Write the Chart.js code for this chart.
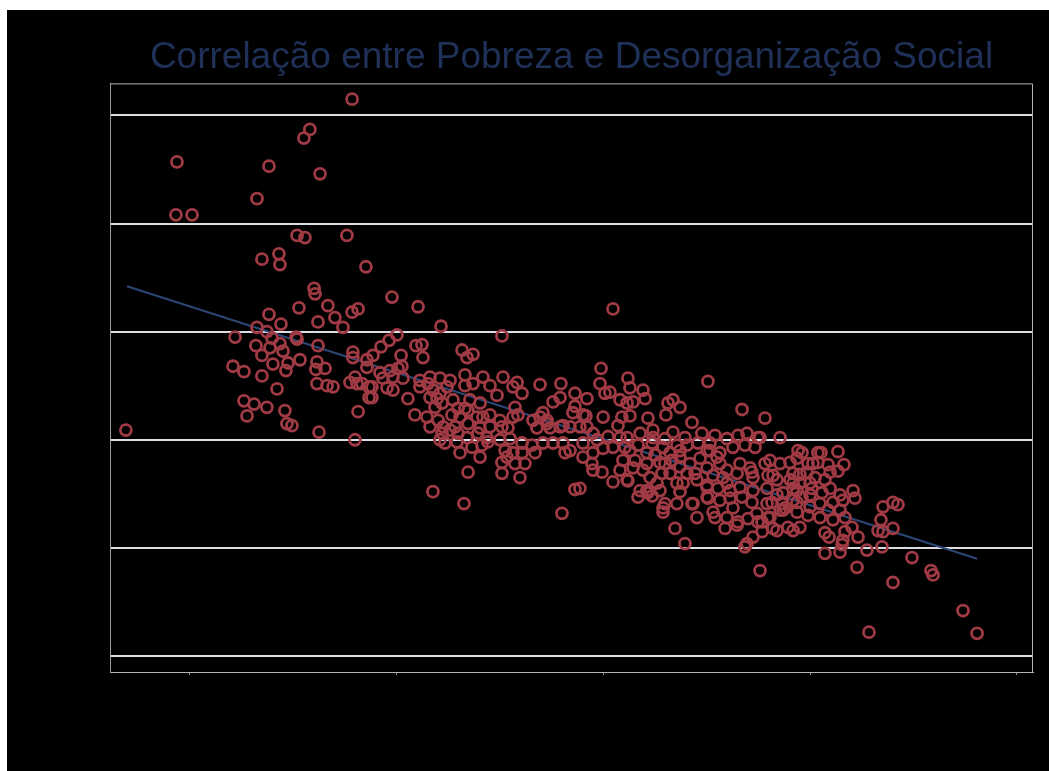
<!DOCTYPE html>
<html lang="pt">
<head>
<meta charset="utf-8">
<title>Correlação entre Pobreza e Desorganização Social</title>
<script src="https://cdn.jsdelivr.net/npm/chart.js@4.4.1/dist/chart.umd.min.js"></script>
<style>
    body { margin: 0; background: #ffffff; }
    #quadro { position: absolute; left: 7px; top: 10px; width: 1042px; height: 761px; background: #000000; }
</style>
</head>
<body>
<div id="quadro"><canvas id="myScatterChart"></canvas></div>
<script>
// 各地区の値 [貧困率, 社会的無秩序指数]
let pontos = [
    [6.90,2.09],[9.37,4.57],[9.32,4.08],[10.10,4.08],[13.82,4.53],[13.24,4.23],[15.80,4.87],[15.51,4.79],
    [16.29,4.46],[17.84,5.15],[15.18,3.89],[15.56,3.87],[17.59,3.89],[13.48,3.67],[14.30,3.72],[14.35,3.62],
    [18.51,3.60],[16.00,3.40],[16.05,3.35],[15.27,3.22],[16.67,3.24],[17.01,3.13],[17.84,3.18],[18.13,3.21],
    [16.19,3.09],[17.40,3.04],[13.82,3.16],[14.40,3.07],[13.24,3.04],[13.72,3.00],[12.18,2.95],[13.97,2.94],
    [15.13,2.95],[15.18,2.93],[13.19,2.87],[14.35,2.89],[13.87,2.85],[14.50,2.82],[13.48,2.78],[16.19,2.87],
    [17.88,2.81],[17.88,2.76],[18.56,2.74],[18.56,2.67],[12.08,2.68],[12.61,2.63],[14.01,2.70],[14.74,2.71],
    [14.64,2.64],[15.32,2.74],[16.14,2.72],[16.09,2.65],[16.53,2.66],[13.48,2.59],[16.14,2.52],[16.63,2.50],
    [16.92,2.49],[17.74,2.53],[17.98,2.58],[18.08,2.52],[18.32,2.52],[18.66,2.49],[18.66,2.39],[14.21,2.47],
    [12.61,2.36],[13.10,2.33],[13.72,2.30],[12.76,2.22],[14.59,2.27],[14.69,2.15],[14.93,2.13],[16.24,2.07],
    [18.13,2.26],[17.98,2.00],
    [19.77,3.32],[21.03,3.23],[22.14,3.05],[25.09,2.96],[20.01,2.97],[19.63,2.92],[19.24,2.86],[18.85,2.78],
    [20.93,2.87],[21.22,2.88],[21.27,2.76],[23.16,2.83],[23.40,2.76],[23.69,2.79],[20.21,2.78],[19.67,2.64],
    [20.06,2.66],[20.25,2.68],[19.19,2.62],[19.33,2.57],[19.82,2.58],[20.30,2.57],[19.53,2.48],[19.82,2.46],
    [18.80,2.49],[18.80,2.39],[20.54,2.38],[21.12,2.55],[21.61,2.58],[22.09,2.57],[22.58,2.55],[21.12,2.49],
    [21.51,2.52],[21.75,2.46],[22.09,2.43],[22.43,2.49],[21.61,2.39],[21.95,2.38],[22.19,2.34],[23.30,2.60],
    [23.69,2.52],[24.17,2.58],[24.51,2.50],[25.14,2.58],[25.82,2.53],[23.30,2.50],[24.85,2.41],[25.62,2.49],
    [26.06,2.43],[26.93,2.51],[27.94,2.52],[28.62,2.43],[29.20,2.38],[27.56,2.35],[27.90,2.39],[20.88,2.23],
    [21.46,2.21],[21.61,2.12],[21.85,2.30],[22.00,2.18],[22.24,2.12],[22.19,2.06],[22.72,2.37],[22.96,2.29],
    [23.30,2.29],[23.54,2.37],[24.03,2.34],[22.67,2.23],[23.06,2.21],[23.45,2.27],[23.45,2.15],[23.88,2.21],
    [24.17,2.21],[24.51,2.23],[22.58,2.09],[22.96,2.06],[23.40,2.02],[23.93,2.06],[24.36,2.02],[24.51,2.12],
    [22.33,1.97],[22.91,1.98],[23.06,1.88],[23.64,1.93],[24.03,1.84],[24.99,2.18],[25.38,2.11],[25.62,2.21],
    [25.86,2.23],[24.99,2.00],[25.24,1.90],[25.09,1.79],[25.09,1.69],[25.62,1.88],[26.06,1.88],[26.20,1.78],
    [25.96,1.65],[26.69,1.88],[23.45,1.70],[21.75,1.52],[23.25,1.41],[26.59,2.18],[26.93,2.21],[27.07,2.25],
    [27.41,2.11],[26.78,2.11],[27.07,1.97],[27.56,1.97],[28.04,2.13],[28.38,2.12],[28.52,2.25],[28.04,1.97],
    [28.38,1.90],[27.99,1.32],[28.62,1.54],[29.01,2.23],[29.20,2.12],[29.49,2.06],[29.01,1.97],[29.49,1.88],
    [29.69,2.00],[26.06,1.97],
    [25.72,2.30],[27.27,2.18],[22.82,2.12],[24.03,2.11],[25.09,2.12],[22.09,2.00],[24.41,1.98],[25.48,2.01],
    [24.12,1.95],[25.33,1.84],[26.54,1.95],[25.72,1.78],
    [30.46,3.21],[29.88,2.66],[31.18,2.57],[29.83,2.52],[30.31,2.44],[30.07,2.43],[31.28,2.48],[31.91,2.46],
    [32.01,2.38],[30.80,2.37],[31.14,2.34],[31.43,2.35],[33.36,2.37],[33.70,2.30],[33.12,2.34],[33.02,2.23],
    [35.05,2.54],[36.70,2.28],[37.81,2.20],[38.54,2.02],[29.15,2.22],[29.98,2.21],[30.89,2.21],[31.28,2.22],
    [32.15,2.20],[34.28,2.16],[28.86,2.12],[30.22,2.03],[30.70,2.13],[31.14,2.02],[31.77,2.06],[32.39,2.09],
    [32.97,2.01],[33.36,2.07],[33.94,2.02],[34.76,2.06],[35.39,2.04],[35.97,2.01],[36.51,2.04],[36.94,2.06],
    [37.47,2.02],[29.98,1.92],[30.46,1.93],[31.04,1.93],[31.67,1.95],[32.35,1.97],[32.88,1.93],[33.55,1.95],
    [34.04,1.95],[34.57,1.97],[35.15,1.97],[35.63,1.88],[36.26,1.93],[36.84,1.95],[37.33,1.93],[29.44,1.78],
    [29.93,1.70],[30.46,1.61],[30.80,1.72],[31.43,1.74],[31.14,1.63],[32.10,1.78],[32.73,1.79],[33.22,1.88],
    [33.70,1.84],[34.18,1.78],[34.43,1.69],[35.01,1.74],[35.49,1.84],[35.97,1.72],[36.60,1.78],[37.18,1.70],
    [37.81,1.78],[38.54,1.78],[39.17,1.69],[39.60,1.88],[39.41,1.90],[40.13,1.78],[40.37,1.88],[32.10,1.53],
    [31.67,1.47],[32.73,1.53],[33.22,1.69],[33.70,1.52],[34.33,1.41],[35.01,1.47],[35.63,1.44],[36.26,1.37],
    [36.70,1.47],[37.23,1.53],[37.91,1.55],[38.68,1.51],[39.36,1.53],[39.99,1.60],[32.88,1.37],[33.55,1.41],
    [34.52,1.28],[35.30,1.33],[37.42,1.32],[38.54,1.35],[39.36,1.33],[32.59,1.60],[33.85,1.60],[35.97,1.60],
    [36.60,1.56],[38.39,1.63],[39.17,1.60],[37.23,1.65],[28.86,1.55],
    [28.62,2.31],[27.27,2.15],[27.90,2.12],[30.80,2.02],[28.14,1.88],[29.01,1.84],[31.28,1.90],[32.10,1.88],
    [30.94,1.81],[31.52,1.81],[32.39,2.02],[32.49,1.86],[33.31,1.81],[32.97,1.78],[33.70,1.90],[35.01,1.90],
    [34.67,1.83],[29.49,1.72],[31.91,1.72],[32.25,1.65],[32.83,1.69],[33.70,1.75],[34.04,1.69],[33.55,1.60],
    [34.52,1.63],[35.01,1.58],[31.77,1.53],
    [41.34,1.89],[40.52,1.88],[37.57,2.02],[38.05,1.81],[39.02,1.79],[39.36,1.83],[40.37,1.79],[41.63,1.77],
    [41.34,1.71],[40.96,1.70],[40.71,1.63],[40.23,1.65],[39.84,1.70],[39.50,1.68],[37.96,1.67],[39.17,1.55],
    [39.50,1.60],[40.08,1.55],[40.57,1.51],[40.96,1.55],[41.44,1.49],[42.07,1.53],[42.16,1.46],[38.15,1.42],
    [38.78,1.37],[39.36,1.42],[39.60,1.47],[39.99,1.38],[40.47,1.41],[41.10,1.42],[41.58,1.44],[38.05,1.28],
    [38.68,1.35],[39.89,1.30],[40.47,1.28],[41.10,1.26],[41.68,1.28],[37.67,1.24],[38.39,1.16],[38.92,1.19],
    [39.50,1.19],[37.67,1.15],[42.02,1.19],[42.31,1.10],[40.91,1.10],[41.58,1.07],[41.54,1.03],[41.44,0.96],
    [40.71,0.95],[42.74,0.98],[43.47,1.01],[43.52,1.38],[44.00,1.42],[44.24,1.40],[43.42,1.26],[43.28,1.16],
    [43.52,1.15],[44.00,1.18],[44.92,0.91],[42.26,0.82],[37.57,0.79],[44.00,0.68],[45.84,0.79],[45.94,0.75],
    [47.39,0.42],[48.07,0.21],[42.84,0.22],
    [31.18,1.62],[32.15,1.51],[32.35,1.48],[32.97,1.41],[32.88,1.33],[34.28,1.41],[35.05,1.46],[36.12,1.46],
    [37.18,1.42],[35.39,1.28],[36.51,1.24],[36.99,1.27],[37.47,1.24],[37.96,1.28],[33.46,1.18],[33.94,1.04],
    [35.88,1.18],[37.23,1.10],[36.84,1.01],[36.94,1.04],[38.20,1.18],
    [35.15,1.90],[35.63,1.78],[37.09,1.74],[39.89,1.78],[40.86,1.77],[35.30,1.67],[35.78,1.65],[36.46,1.69],
    [38.20,1.67],[39.02,1.63],[35.01,1.56],[35.54,1.55],[36.12,1.53],[38.39,1.49],[39.99,1.49],[37.91,1.41],
    [38.63,1.41],[39.17,1.44],[35.97,1.28],[40.86,1.35],[41.44,1.35],[36.46,1.21],[39.17,1.16],[40.71,1.14],
    [41.68,1.15]
];

// 回帰直線の両端
let tendenciaX = [6.95, 48.07];
let tendenciaY = [3.42, 0.90];

// 目盛り
let xTicks = [10, 20, 30, 40, 50];
let yTicks = [0, 1, 2, 3, 4, 5];

// グラフ外枠（上と右）を描く
const molduraPlugin = {
    id: 'moldura',
    afterDraw(chart) {
        const a = chart.chartArea;
        const ctx = chart.ctx;
        ctx.save();
        ctx.strokeStyle = '#b4b4b4';
        ctx.lineWidth = 1;
        ctx.beginPath();
        ctx.moveTo(a.left, a.top + 0.5);
        ctx.lineTo(a.right - 0.5, a.top + 0.5);
        ctx.lineTo(a.right - 0.5, a.bottom);
        ctx.stroke();
        ctx.restore();
    }
};

let ctx = document.getElementById("myScatterChart");
let myScatterChart = new Chart(ctx, {
    type: 'scatter',
    data: {
        datasets: [{
            label: 'Municípios',
            data: pontos.map(p => ({x: p[0], y: p[1]})),
            backgroundColor: 'rgba(0,0,0,0)',
            borderColor: '#a03a44',
            borderWidth: 2.8,
            pointRadius: 5.5,
            pointHoverRadius: 5.5,
            order: 0
        }, {
            type: 'line',
            label: 'Tendência',
            data: tendenciaX.map((x, i) => ({x: x, y: tendenciaY[i]})),
            borderColor: '#2c4675',
            borderWidth: 2,
            pointRadius: 0,
            fill: false,
            order: 1
        }]
    },
    plugins: [molduraPlugin],
    options: {
        responsive: true,
        maintainAspectRatio: false,
        animation: false,
        layout: {
            padding: {left: 0, right: 16, top: 0, bottom: 0}
        },
        plugins: {
            legend: { display: false },
            tooltip: { enabled: false },
            title: {
                display: true,
                fullSize: false,
                text: 'Correlação entre Pobreza e Desorganização Social',
                color: '#1f3158',
                font: { family: 'Liberation Sans', size: 37, weight: 'normal' },
                padding: { top: 26, bottom: 3 }
            }
        },
        scales: {
            x: {
                type: 'linear',
                min: 6.131,
                max: 50.774,
                afterBuildTicks: function(scale){
                    scale.ticks = xTicks.map(v => ({value: v}));
                },
                afterFit: function(scale){
                    scale.height = 99;
                },
                border: { display: true, color: '#b4b4b4', width: 1 },
                grid: {
                    display: true,
                    drawOnChartArea: false,
                    drawTicks: true,
                    tickLength: 3,
                    color: '#8c8c8c'
                },
                ticks: {
                    color: '#000000',
                    font: { family: 'Liberation Sans', size: 14 }
                }
            },
            y: {
                type: 'linear',
                min: -0.148,
                max: 5.296,
                afterBuildTicks: function(scale){
                    scale.ticks = yTicks.map(v => ({value: v}));
                },
                afterFit: function(scale){
                    scale.width = 103;
                },
                border: { display: true, color: '#9a9a9a', width: 1 },
                grid: {
                    color: '#dcdce4',
                    lineWidth: 2,
                    drawTicks: false
                },
                ticks: {
                    color: '#000000',
                    padding: 8,
                    font: { family: 'Liberation Sans', size: 14 }
                }
            }
        }
    }
});
</script>
</body>
</html>
